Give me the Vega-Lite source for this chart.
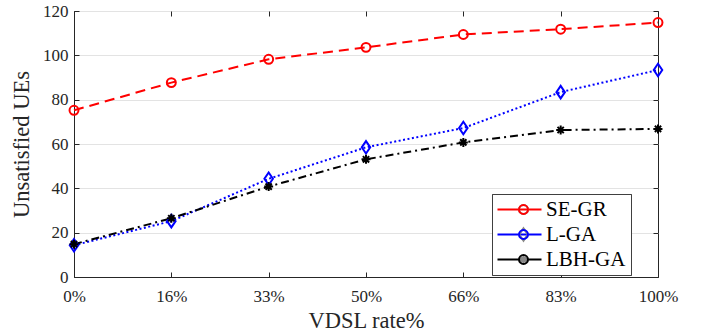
{
  "$schema": "https://vega.github.io/schema/vega-lite/v6.json",
  "width": 584,
  "height": 266,
  "autosize": {"type": "none"},
  "padding": {"left": 74, "top": 11, "right": 48, "bottom": 58},
  "background": "white",
  "config": {
    "font": "Liberation Serif",
    "view": {"stroke": "#262626", "strokeWidth": 1},
    "style": {
      "guide-label": {"font": "Liberation Serif"},
      "guide-title": {"font": "Liberation Serif"}
    },
    "axis": {
      "domainColor": "#262626",
      "tickColor": "#262626",
      "labelColor": "#262626",
      "titleColor": "#262626",
      "labelFont": "Liberation Serif",
      "titleFont": "Liberation Serif",
      "labelFontSize": 17,
      "titleFontSize": 22.5,
      "titleFontWeight": "normal",
      "gridColor": "#e3e3e3",
      "gridWidth": 1,
      "tickSize": -5,
      "domainWidth": 1
    }
  },
  "data": {
    "values": [
      {"rate": "0%", "series": "SE-GR", "name": "SE-GR", "value": 75.2},
      {"rate": "16%", "series": "SE-GR", "name": "SE-GR", "value": 87.7},
      {"rate": "33%", "series": "SE-GR", "name": "SE-GR", "value": 98.2},
      {"rate": "50%", "series": "SE-GR", "name": "SE-GR", "value": 103.6},
      {"rate": "66%", "series": "SE-GR", "name": "SE-GR", "value": 109.4},
      {"rate": "83%", "series": "SE-GR", "name": "SE-GR", "value": 111.8},
      {"rate": "100%", "series": "SE-GR", "name": "SE-GR", "value": 114.8},
      {"rate": "0%", "series": "L-GA", "name": "L-GA", "value": 14.3},
      {"rate": "16%", "series": "L-GA", "name": "L-GA", "value": 25.2},
      {"rate": "33%", "series": "L-GA", "name": "L-GA", "value": 44.3},
      {"rate": "50%", "series": "L-GA", "name": "L-GA", "value": 58.5},
      {"rate": "66%", "series": "L-GA", "name": "L-GA", "value": 67.2},
      {"rate": "83%", "series": "L-GA", "name": "L-GA", "value": 83.4},
      {"rate": "100%", "series": "L-GA", "name": "L-GA", "value": 93.4},
      {"rate": "0%", "series": "LBH-GA", "name": "LBH-GA", "value": 14.8},
      {"rate": "16%", "series": "LBH-GA", "name": "LBH-GA", "value": 26.5},
      {"rate": "33%", "series": "LBH-GA", "name": "LBH-GA", "value": 40.8},
      {"rate": "50%", "series": "LBH-GA", "name": "LBH-GA", "value": 53.1},
      {"rate": "66%", "series": "LBH-GA", "name": "LBH-GA", "value": 60.7},
      {"rate": "83%", "series": "LBH-GA", "name": "LBH-GA", "value": 66.3},
      {"rate": "100%", "series": "LBH-GA", "name": "LBH-GA", "value": 66.8}
    ]
  },
  "layer": [
    {
      "mark": {"type": "line", "strokeWidth": 2},
      "encoding": {
        "x": {
          "field": "rate", "type": "ordinal",
          "sort": ["0%", "16%", "33%", "50%", "66%", "83%", "100%"],
          "scale": {"type": "point", "padding": 0},
          "axis": {"orient": "bottom", "title": "VDSL rate%", "labelAngle": 0, "grid": false, "labelPadding": 16, "titlePadding": 5, "labelFont": "Liberation Serif", "titleFont": "Liberation Serif"}
        },
        "y": {
          "field": "value", "type": "quantitative",
          "scale": {"domain": [0, 120], "nice": false},
          "axis": {"orient": "left", "title": "Unsatisfied UEs", "values": [0, 20, 40, 60, 80, 100, 120], "grid": true, "labelPadding": 11, "titlePadding": 9, "labelFont": "Liberation Serif", "titleFont": "Liberation Serif"}
        },
        "color": {
          "field": "series", "type": "nominal",
          "sort": ["SE-GR", "L-GA", "LBH-GA"],
          "scale": {"range": ["#ff0000", "#0000ff", "#000000"]},
          "legend": {"orient": "none", "legendX": 418, "legendY": 183, "title": null, "symbolType": "M-2.5,0H2.5", "symbolSize": 310, "symbolOffset": 12, "symbolStrokeWidth": 2, "labelFont": "Liberation Serif", "labelFontSize": 21, "labelColor": "#000000", "labelOffset": 16, "padding": 5, "rowPadding": 3, "strokeColor": "#404040", "fillColor": "white", "zindex": 0}
        },
        "strokeDash": {
          "field": "series", "type": "nominal",
          "sort": ["SE-GR", "L-GA", "LBH-GA"],
          "scale": {"range": [[10, 6], [2, 2.5], [8, 4, 2, 4]]},
          "legend": {"orient": "none", "legendX": 418, "legendY": 183, "title": null, "symbolType": "M-2.5,0H2.5", "symbolSize": 310, "symbolOffset": 12, "symbolStrokeWidth": 2, "labelFont": "Liberation Serif", "labelFontSize": 21, "labelColor": "#000000", "labelOffset": 16, "padding": 5, "rowPadding": 3, "strokeColor": "#404040", "fillColor": "white", "zindex": 0}
        }
      }
    },
    {
      "mark": {"type": "point", "filled": false, "strokeWidth": 2, "size": 80, "opacity": 1},
      "encoding": {
        "x": {
          "field": "rate", "type": "ordinal",
          "sort": ["0%", "16%", "33%", "50%", "66%", "83%", "100%"],
          "axis": {"orient": "top", "title": null, "labels": false, "grid": false, "domain": false}
        },
        "y": {
          "field": "value", "type": "quantitative",
          "axis": {"orient": "right", "title": null, "labels": false, "grid": false, "domain": false, "values": [0, 20, 40, 60, 80, 100, 120]}
        },
        "color": {
          "field": "name", "type": "nominal",
          "sort": ["SE-GR", "L-GA", "LBH-GA"],
          "scale": {"range": ["#ff0000", "#0000ff", "#000000"]},
          "legend": {"orient": "none", "legendX": 434, "legendY": 183, "title": null, "symbolSize": 80, "symbolStrokeWidth": 2, "symbolFillColor": "transparent", "labelExpr": "' '", "labelFont": "Liberation Serif", "labelFontSize": 21, "padding": 5, "rowPadding": 3, "zindex": 1}
        },
        "shape": {
          "field": "name", "type": "nominal",
          "sort": ["SE-GR", "L-GA", "LBH-GA"],
          "scale": {"range": ["circle", "M0,-1.4L0.95,0L0,1.4L-0.95,0Z", "M-1,0H1M0,-1V1M-0.7,-0.7L0.7,0.7M-0.7,0.7L0.7,-0.7"]},
          "legend": {"orient": "none", "legendX": 434, "legendY": 183, "title": null, "symbolSize": 80, "symbolStrokeWidth": 2, "symbolFillColor": "transparent", "labelExpr": "' '", "labelFont": "Liberation Serif", "labelFontSize": 21, "padding": 5, "rowPadding": 3, "zindex": 1}
        }
      }
    }
  ],
  "resolve": {
    "scale": {"color": "independent"},
    "axis": {"x": "independent", "y": "independent"},
    "legend": {"color": "independent"}
  }
}
